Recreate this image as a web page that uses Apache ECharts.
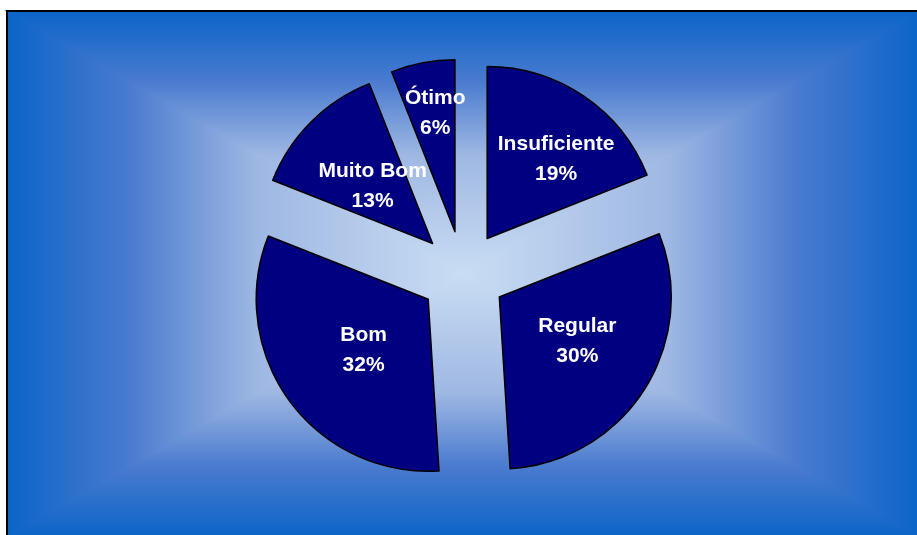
<!DOCTYPE html>
<html>
<head>
<meta charset="utf-8">
<script src="https://cdn.jsdelivr.net/npm/echarts@6/dist/echarts.min.js"></script>
<style>
html,body{margin:0;padding:0;background:#fff;}
#chart{width:917px;height:535px;}
</style>
</head>
<body>
<div id="chart"></div>
<script>
var categories = ['Insuficiente', 'Regular', 'Bom', 'Muito Bom', 'Ótimo'];
var values = [19, 30, 32, 13, 6];
var percentLabels = ['19%', '30%', '32%', '13%', '6%'];
// label nudges (dx, dy) to match reference placement
var labelDx = [-11, -8, 16, 20, 12];
var labelDy = [7, -10, -3, 23, -33];

var chart = echarts.init(document.getElementById('chart'), null, {renderer: 'canvas'});

var X0 = 7, Y0 = 11, X1 = 919, Y1 = 537;
var CX = 463, CY = 274;
function grad(x, y, x2, y2) {
  return {type: 'linear', x: x, y: y, x2: x2, y2: y2, colorStops: [
    {offset: 0, color: '#0a64c8'},
    {offset: 0.27, color: '#4a7bcf'},
    {offset: 0.55, color: '#9fb8e3'},
    {offset: 1, color: '#c9ddf3'}
  ]};
}
function tri(points, g) {
  return {type: 'polygon', z: -10, silent: true,
    shape: {points: points},
    style: {fill: g, stroke: g, lineWidth: 1.5}};
}

var graphics = [
  tri([[X0, Y0], [X1, Y0], [CX, CY]], grad(0, 0, 0, 1)),
  tri([[X0, Y1], [X1, Y1], [CX, CY]], grad(0, 1, 0, 0)),
  tri([[X0, Y0], [X0, Y1], [CX, CY]], grad(0, 0, 1, 0)),
  tri([[X1, Y0], [X1, Y1], [CX, CY]], grad(1, 0, 0, 0)),
  {type: 'rect', z: -9, silent: true,
   shape: {x: X0, y: Y0, width: X1 - X0 + 6, height: Y1 - Y0 + 6},
   style: {fill: 'none', stroke: '#000', lineWidth: 2}}
];

var data = categories.map(function (c, i) {
  return {name: c, value: values[i], selected: true};
});

var labelStyle = {
  show: true,
  position: 'inside',
  color: '#ffffff',
  fontFamily: 'Liberation Sans, Arial, sans-serif',
  fontWeight: 'bold',
  fontSize: 21,
  lineHeight: 30,
  formatter: function (p) { return p.name + '\n' + percentLabels[p.dataIndex]; }
};

chart.setOption({
  animation: false,
  backgroundColor: '#ffffff',
  graphic: graphics,
  series: [{
    type: 'pie',
    center: [463, 274],
    radius: 172,
    startAngle: 90,
    clockwise: true,
    selectedMode: 'multiple',
    selectedOffset: 43,
    avoidLabelOverlap: false,
    silent: true,
    itemStyle: {color: '#000080', borderColor: '#000000', borderWidth: 1.5},
    select: {itemStyle: {color: '#000080', borderColor: '#000000', borderWidth: 1.5}, label: labelStyle},
    emphasis: {disabled: true},
    label: labelStyle,
    labelLine: {show: false},
    labelLayout: function (params) {
      return {dx: labelDx[params.dataIndex], dy: labelDy[params.dataIndex]};
    },
    data: data
  }]
});
</script>
</body>
</html>
